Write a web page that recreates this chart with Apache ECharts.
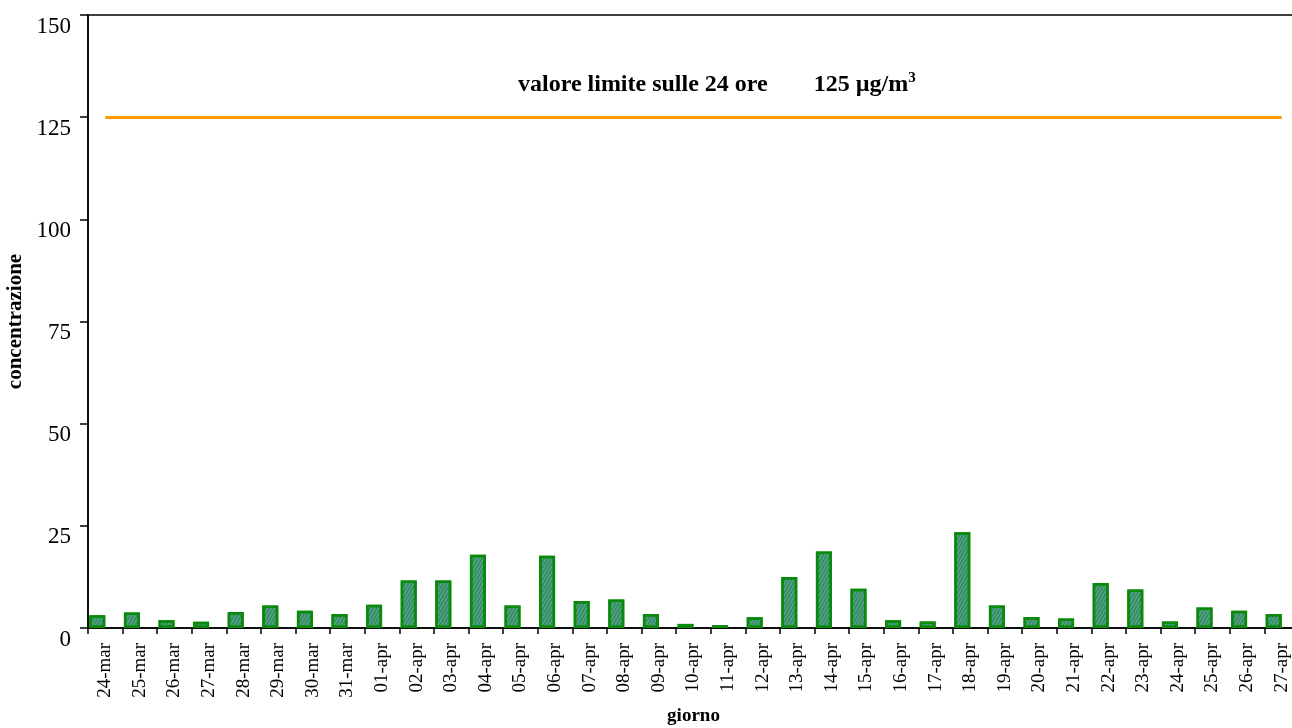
<!DOCTYPE html>
<html>
<head>
<meta charset="utf-8">
<script src="https://cdn.jsdelivr.net/npm/echarts@6/dist/echarts.min.js"></script>
<style>
  html, body { margin: 0; padding: 0; background: #fff; }
  #chart { width: 1292px; height: 728px; }
</style>
</head>
<body>
<div id="chart"></div>
<script>
// Giorni di misura
const days = [
  '24-mar', '25-mar', '26-mar', '27-mar', '28-mar', '29-mar', '30-mar', '31-mar',
  '01-apr', '02-apr', '03-apr', '04-apr', '05-apr', '06-apr', '07-apr', '08-apr',
  '09-apr', '10-apr', '11-apr', '12-apr', '13-apr', '14-apr', '15-apr', '16-apr',
  '17-apr', '18-apr', '19-apr', '20-apr', '21-apr', '22-apr', '23-apr', '24-apr',
  '25-apr', '26-apr', '27-apr'
];

// Concentrazione media giornaliera (µg/m3)
const concentrazione = [
  3.1, 3.8, 1.9, 1.5, 3.9, 5.5, 4.2, 3.4,
  5.7, 11.6, 11.6, 17.9, 5.5, 17.7, 6.6, 7.0,
  3.4, 1.0, 0.7, 2.6, 12.5, 18.7, 9.6, 1.9,
  1.6, 23.4, 5.5, 2.7, 2.3, 11.0, 9.4, 1.6,
  5.0, 4.2, 3.4
];

// Valore limite sulle 24 ore (µg/m3)
const valoreLimite = 125;

// Asse delle concentrazioni
const yTicks = { min: 0, max: 150, step: 25 };

const serif = '"Liberation Serif", "Times New Roman", serif';

const chart = echarts.init(document.getElementById('chart'));

chart.setOption({
  animation: false,
  backgroundColor: '#ffffff',
  textStyle: { fontFamily: serif },
  grid: {
    left: 88,
    top: 15,
    width: 1211,
    bottom: 100,
    show: true,
    borderColor: '#000',
    borderWidth: 1.5,
    containLabel: false,
    outerBoundsMode: 'none'
  },
  title: {
    left: 513,
    top: 66,
    text: '{a|valore limite sulle 24 ore}{b|125 µg/m}{s|3}',
    textStyle: {
      rich: {
        a: { fontFamily: serif, fontWeight: 'bold', fontSize: 24, color: '#000' },
        b: { fontFamily: serif, fontWeight: 'bold', fontSize: 24, color: '#000', padding: [0, 0, 0, 46] },
        s: { fontFamily: serif, fontWeight: 'bold', fontSize: 15, color: '#000', padding: [0, 0, 13, 0] }
      }
    }
  },
  xAxis: {
    type: 'category',
    data: days,
    name: 'giorno',
    nameLocation: 'middle',
    nameGap: 79,
    nameTextStyle: { fontFamily: serif, fontWeight: 'bold', fontSize: 19, color: '#000' },
    axisLine: { lineStyle: { color: '#000', width: 1.5 } },
    axisTick: { show: true, length: 6, lineStyle: { color: '#000', width: 1.5 } },
    axisLabel: {
      rotate: 90,
      margin: 15,
      fontFamily: serif,
      fontSize: 19,
      color: '#000'
    }
  },
  yAxis: {
    type: 'value',
    min: yTicks.min,
    max: yTicks.max,
    interval: yTicks.step,
    name: 'concentrazione',
    nameLocation: 'middle',
    nameRotate: 90,
    nameGap: 59,
    nameTextStyle: { fontFamily: serif, fontWeight: 'bold', fontSize: 21, color: '#000' },
    splitLine: { show: false },
    axisLine: { show: true, lineStyle: { color: '#000', width: 1.5 } },
    axisTick: { show: true, length: 8, lineStyle: { color: '#000', width: 1.5 } },
    axisLabel: {
      margin: 17,
      verticalAlign: 'top',
      fontFamily: serif,
      fontSize: 23,
      color: '#000'
    }
  },
  series: [
    {
      name: 'concentrazione',
      type: 'bar',
      data: concentrazione,
      barWidth: 16,
      barGap: '0%',
      itemStyle: {
        color: '#4aa47e',
        borderColor: '#0a8a0a',
        borderWidth: 2.5,
        decal: {
          symbol: 'rect',
          symbolSize: 1,
          dashArrayX: [1, 0],
          dashArrayY: [1, 2],
          rotation: -Math.PI / 3,
          color: 'rgba(25, 75, 50, 0.45)'
        }
      }
    },
    {
      // secondo gruppo della coppia di barre (vuoto)
      name: 'riserva',
      type: 'bar',
      data: [],
      barWidth: 16,
      barGap: '0%'
    },
    {
      // linea del valore limite, dal primo all'ultimo giorno
      name: 'valore limite',
      type: 'line',
      data: [],
      markLine: {
        silent: true,
        symbol: ['none', 'none'],
        label: { show: false },
        lineStyle: { color: '#ff9900', width: 3, type: 'solid' },
        data: [[
          { xAxis: days[0], yAxis: valoreLimite },
          { xAxis: days[days.length - 1], yAxis: valoreLimite }
        ]]
      }
    }
  ]
});
</script>
</body>
</html>
